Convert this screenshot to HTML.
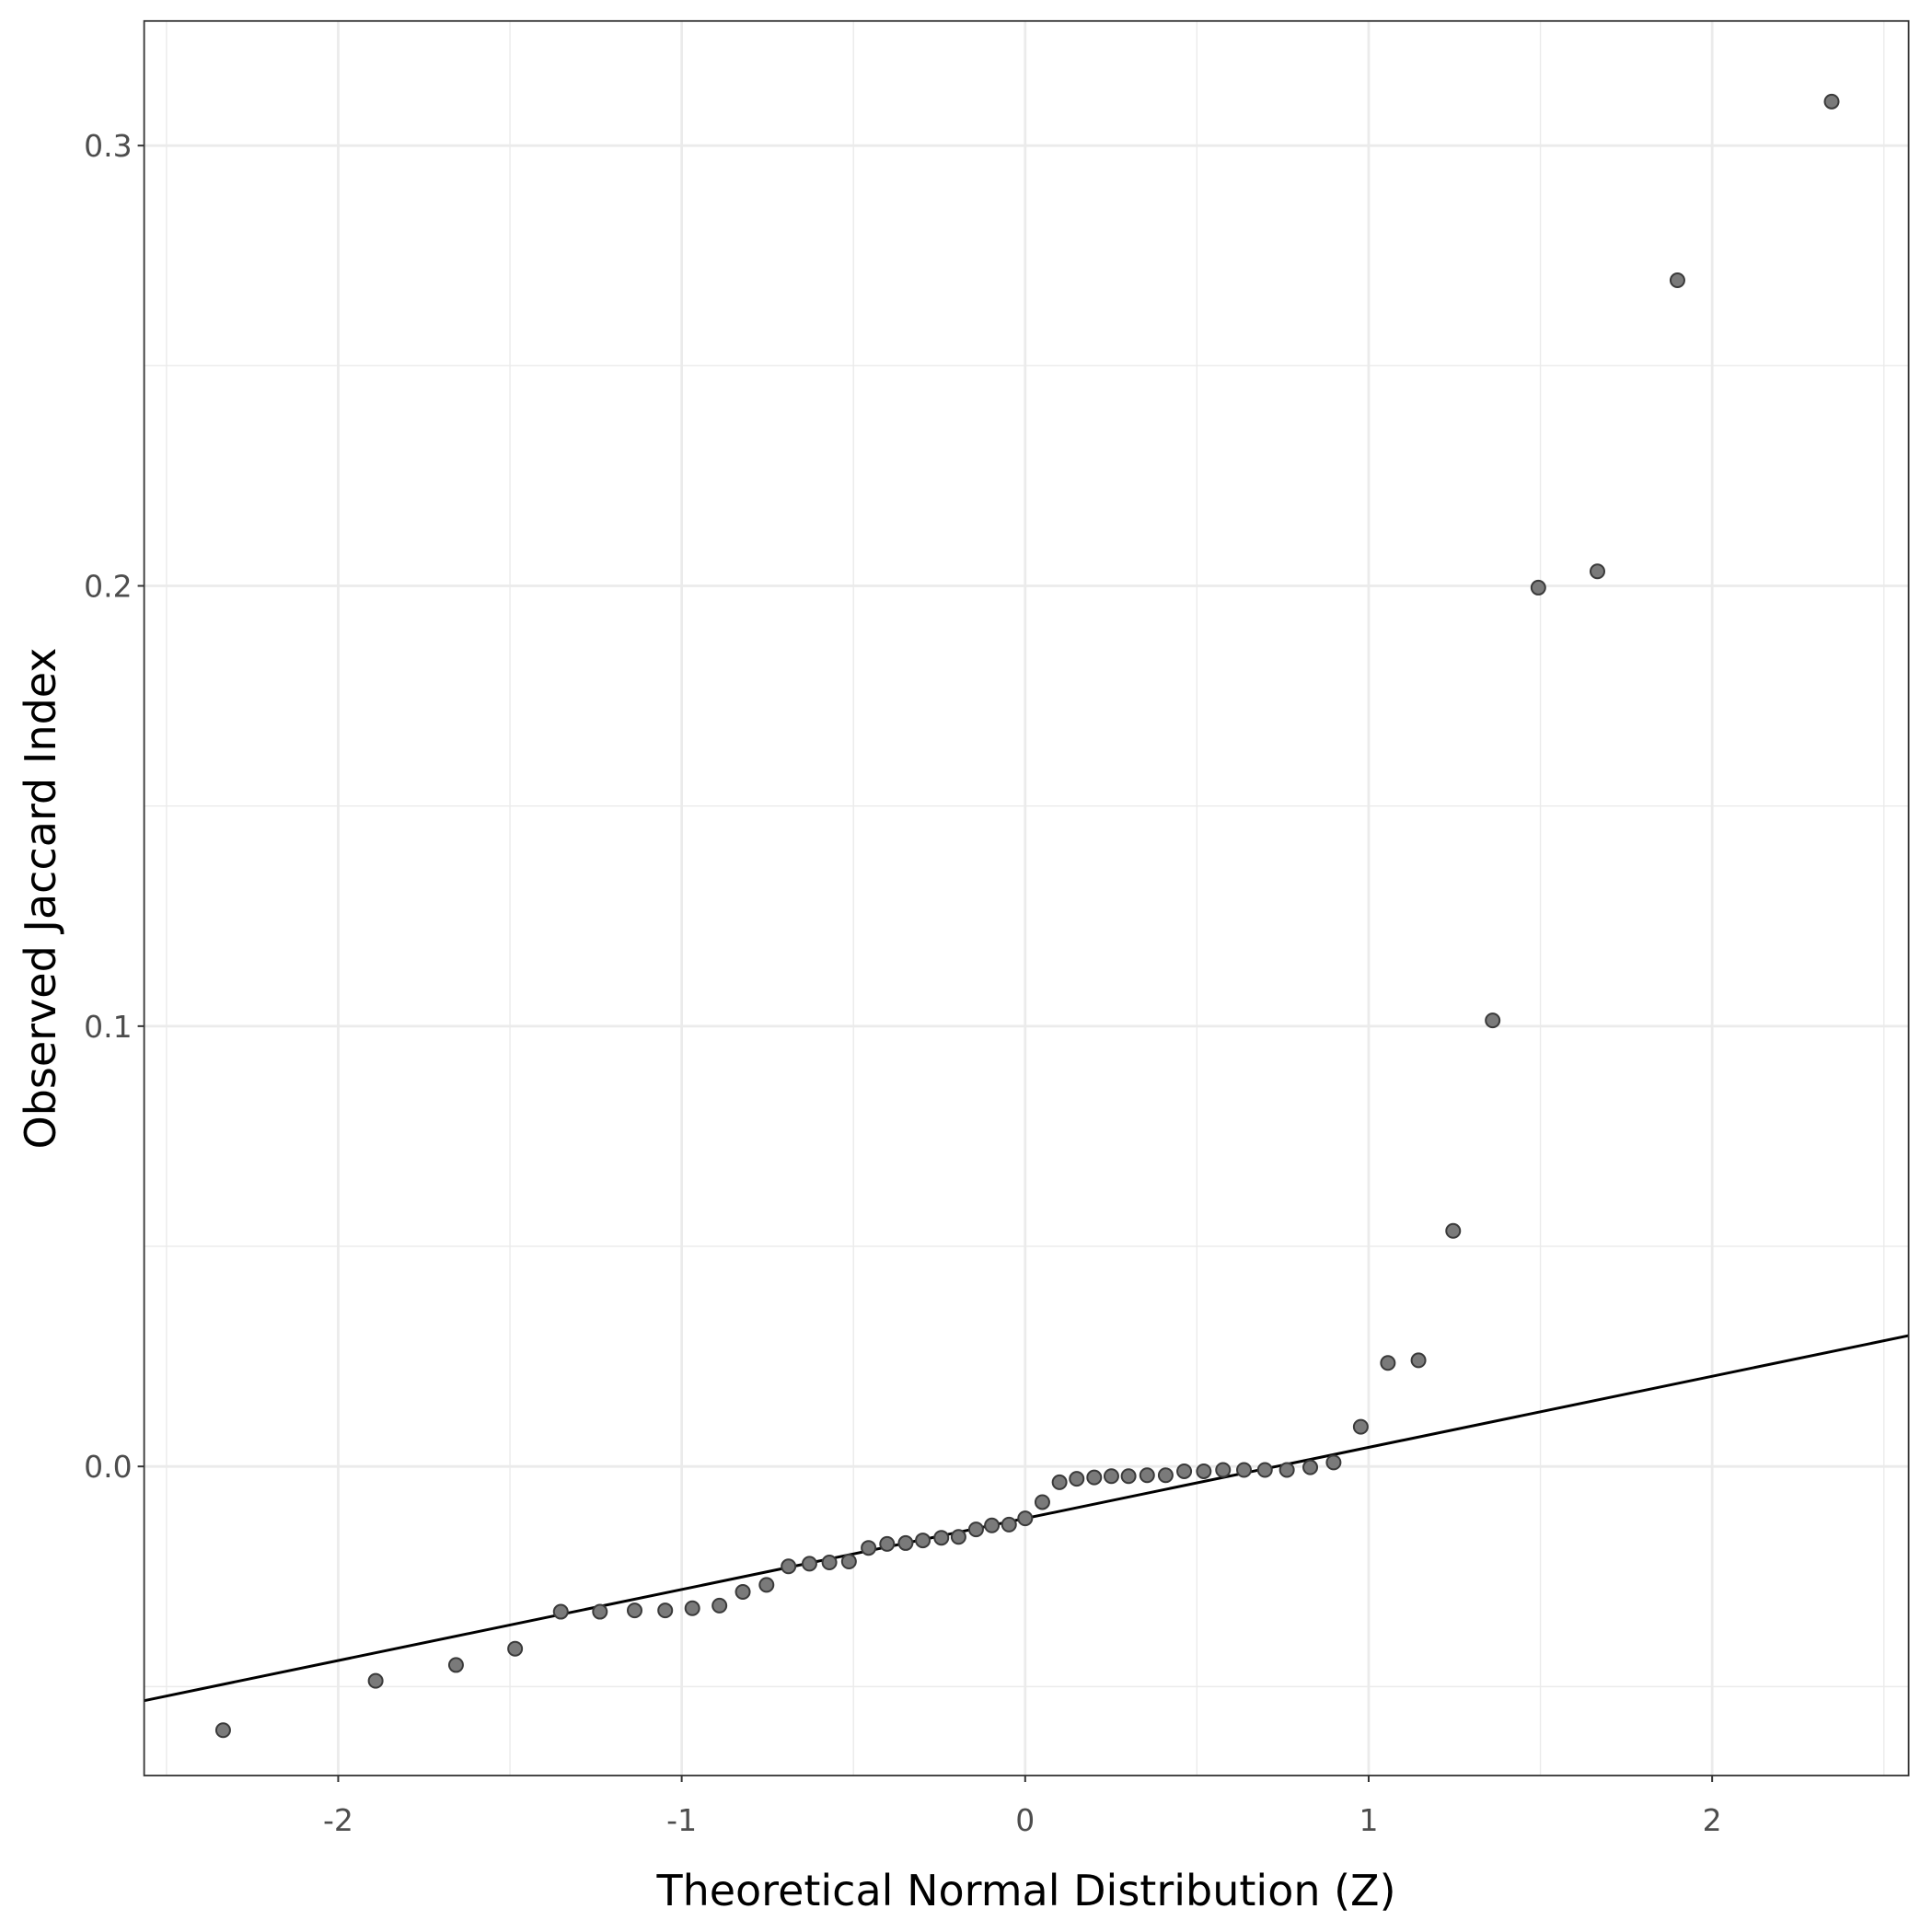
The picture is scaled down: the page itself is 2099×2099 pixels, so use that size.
<!DOCTYPE html>
<html><head><meta charset="utf-8"><style>
html,body{margin:0;padding:0;background:#fff}
svg{display:block;font-family:"DejaVu Sans","Liberation Sans",sans-serif}
</style></head><body>
<svg id="chart" width="2099" height="2099" viewBox="0 0 2099 2099" xmlns="http://www.w3.org/2000/svg">
<rect x="0" y="0" width="2099" height="2099" fill="#fff"/>
<g id="grid"></g>
<g id="refline"></g>
<g id="points"></g>
<rect x="156.6" y="22.8" width="1917" height="1906.2" fill="none" stroke="#333" stroke-width="1.8"/>
<g id="axes"></g>
<text x="1115" y="2070" font-size="46" text-anchor="middle" fill="#000">Theoretical Normal Distribution (Z)</text>
<text transform="translate(60,976) rotate(-90)" font-size="46" text-anchor="middle" fill="#000">Observed Jaccard Index</text>
</svg>
<script>
const theoretical = [-2.335,-1.891,-1.657,-1.485,-1.352,-1.238,-1.137,-1.048,-0.969,-0.890,-0.822,-0.753,-0.689,-0.628,-0.570,-0.513,-0.456,-0.402,-0.348,-0.298,-0.244,-0.194,-0.143,-0.097,-0.047,0,0.050,0.100,0.150,0.201,0.251,0.301,0.355,0.409,0.463,0.520,0.576,0.637,0.698,0.762,0.830,0.898,0.977,1.056,1.145,1.246,1.361,1.494,1.666,1.899,2.348];
const observed = [-0.0599,-0.0487,-0.0451,-0.0414,-0.0330,-0.0330,-0.0327,-0.0327,-0.0322,-0.0316,-0.0285,-0.0269,-0.0227,-0.0221,-0.0218,-0.0216,-0.0185,-0.0176,-0.0174,-0.0168,-0.0162,-0.0160,-0.0143,-0.0134,-0.0132,-0.0118,-0.0081,-0.0036,-0.0028,-0.0025,-0.0022,-0.0022,-0.0020,-0.0020,-0.0011,-0.0011,-0.0008,-0.0008,-0.0008,-0.0008,-0.0002,0.0009,0.0090,0.0235,0.0241,0.0535,0.1013,0.1996,0.2033,0.2694,0.3100];
const lineIntercept = -0.0118;
const lineSlope = 0.01614;
const xTicks = [-2,-1,0,1,2];
const xTickLabels = ["-2","-1","0","1","2"];
const xMinor = [-2.5,-1.5,-0.5,0.5,1.5,2.5];
const yTicks = [0,0.1,0.2,0.3];
const yTickLabels = ["0.0","0.1","0.2","0.3"];
const yMinor = [-0.05,0.05,0.15,0.25];

const NS = "http://www.w3.org/2000/svg";
const L = 156.6, R = 2073.6, T = 22.8, B = 1929;
const xMin = -2.565, xMax = 2.572, yMin = -0.0702, yMax = 0.3283;
function sx(v){ return L + (v - xMin) / (xMax - xMin) * (R - L); }
function sy(v){ return B - (v - yMin) / (yMax - yMin) * (B - T); }
function mk(tag, attrs, parent){ const e = document.createElementNS(NS, tag); for (const k in attrs) e.setAttribute(k, attrs[k]); parent.appendChild(e); return e; }

const grid = document.getElementById('grid');
xMinor.forEach(v => { const e = mk('line', {x1:sx(v), x2:sx(v), y1:T, y2:B, stroke:'#ebebeb', 'stroke-width':1.4}, grid);
  
   });
yMinor.forEach(v => { const e = mk('line', {x1:L, x2:R, y1:sy(v), y2:sy(v), stroke:'#ebebeb', 'stroke-width':1.4}, grid);
  
   });
xTicks.forEach(v => { const e = mk('line', {x1:sx(v), x2:sx(v), y1:T, y2:B, stroke:'#ebebeb', 'stroke-width':2.8}, grid);
  
   });
yTicks.forEach(v => { const e = mk('line', {x1:L, x2:R, y1:sy(v), y2:sy(v), stroke:'#ebebeb', 'stroke-width':2.8}, grid);
  
   });

const rl = document.getElementById('refline');
const ln = mk('line', {x1:sx(xMin), y1:sy(lineIntercept + lineSlope*xMin), x2:sx(xMax), y2:sy(lineIntercept + lineSlope*xMax), stroke:'#000', 'stroke-width':3}, rl);



const pts = document.getElementById('points');
const n = Math.min(theoretical.length, observed.length);
for (let i = 0; i < n; i++) {
  const c = mk('circle', {cx:sx(theoretical[i]), cy:sy(observed[i]), r:7.5, fill:'#7a7a7a', stroke:'#3a3a3a', 'stroke-width':2}, pts);
  
  
}

const axes = document.getElementById('axes');
xTicks.forEach((v, i) => {
  const t = mk('line', {x1:sx(v), x2:sx(v), y1:B, y2:B+7, stroke:'#333', 'stroke-width':2}, axes);
  
  
  const tx = mk('text', {x:sx(v), y:1989, 'font-size':33, 'text-anchor':'middle', fill:'#4d4d4d'}, axes);
  tx.textContent = xTickLabels[i];
  
  
});
yTicks.forEach((v, i) => {
  const t = mk('line', {x1:L-7, x2:L, y1:sy(v), y2:sy(v), stroke:'#333', 'stroke-width':2}, axes);
  
  
  const tx = mk('text', {x:L-13, y:sy(v)+12, 'font-size':33, 'text-anchor':'end', fill:'#4d4d4d'}, axes);
  tx.textContent = yTickLabels[i];
  
  
});
</script>
</body></html>
